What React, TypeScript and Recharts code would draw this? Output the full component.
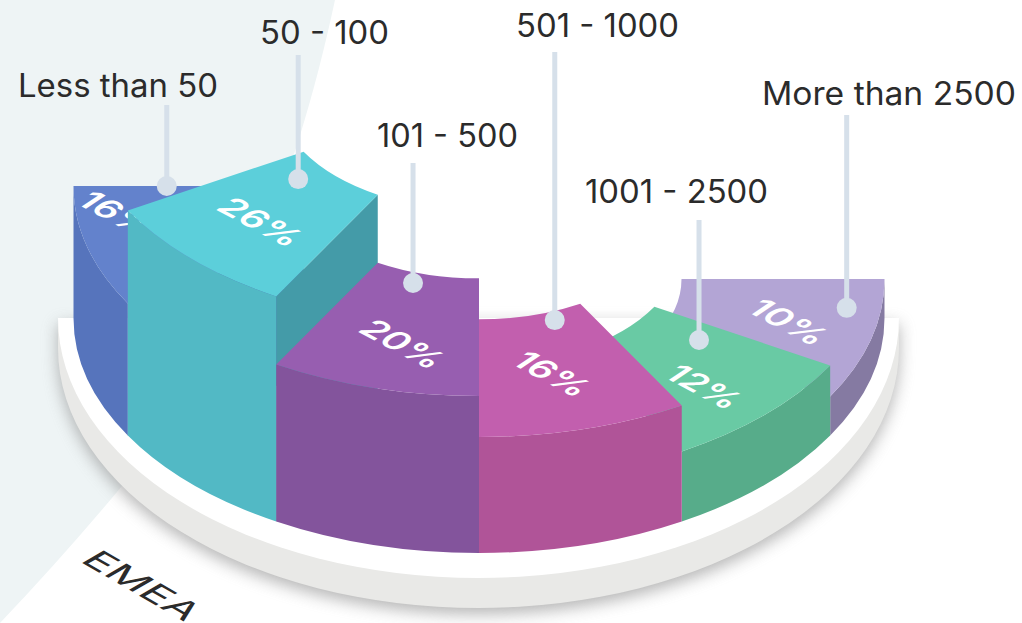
import React from "react";
import { PieChart, Pie } from "recharts";

const categories = ["Less than 50", "50 - 100", "101 - 500", "501 - 1000", "1001 - 2500", "More than 2500"];
const shares = [16, 26, 20, 16, 12, 10];

// Styling, separate from the values
const topColors = ["#6382CC", "#5CCFDA", "#975EB0", "#C25FAE", "#69CAA4", "#B3A5D5"];
const wallColors = ["#5674BC", "#52B9C5", "#83549C", "#B05498", "#57AC8A", "#857AA2"];
const sideColors = ["#4C68A8", "#449BA8", "#70478A", "#B05498", "#57AC8A", "#857AA2"];

// Layout of the extruded blocks and their annotations
const lifts = [132, 225, 157, 116, 70, 39];
const pinPolar = [[0.77, 180], [0.577, 219.4], [0.544, 252.6], [0.536, -69.6], [0.669, -35.8], [0.915, -7.7]];
const pctPolar = [[0.905, 187], [0.767, 224.7], [0.794, 255.8], [0.744, -76.5], [0.8, -46.7], [0.777, -13]];
const pctWidths = [76, 84, 84, 76, 74, 78];
const leaderTops = [105, 55, 163, 52, 220, 115];
const labelPos = [[18, 97, 200], [260, 44, 129], [377, 147, 141], [516, 37, 163], [585, 203, 183], [762, 105, 254]];

const WIDTH = 1022;
const HEIGHT = 623;
const CX = 479;
const CY = 318;
const OUTER = 405.5;
const INNER = 202.5;
const TILT = 235 / 405.5;
const RAD = Math.PI / 180;
const FONT = "Inter, 'Open Sans', sans-serif";
const PIN = "#D6E0EA";

const rows = categories.map((name, index) => ({ name, share: shares[index], span: 1, index }));
const leftRows = rows.slice(0, 3);
const rightRows = rows.slice(3).reverse();

function SliceShape(props: any) {
  const { cx, cy, innerRadius, outerRadius, startAngle, endAngle } = props;
  const row = props.payload ?? props;
  const i = row.index;
  const h = lifts[i];
  const at = (r: number, a: number, lift: number) => [
    cx + r * Math.cos(a * RAD),
    cy - TILT * r * Math.sin(a * RAD) - lift,
  ];
  const sweep = endAngle < startAngle ? 1 : 0;
  const back = 1 - sweep;
  const arc = (r: number, lift: number, s: number, to: number) => {
    const p = at(r, to, lift);
    return `A${r} ${r * TILT} 0 0 ${s} ${p[0]} ${p[1]}`;
  };
  const oT0 = at(outerRadius, startAngle, h);
  const oB1 = at(outerRadius, endAngle, 0);
  const iT1 = at(innerRadius, endAngle, h);
  const oT1 = at(outerRadius, endAngle, h);
  const iB1 = at(innerRadius, endAngle, 0);
  const top = `M${oT0[0]} ${oT0[1]} ${arc(outerRadius, h, sweep, endAngle)} L${iT1[0]} ${iT1[1]} ${arc(innerRadius, h, back, startAngle)} Z`;
  const wall = `M${oT0[0]} ${oT0[1]} ${arc(outerRadius, h, sweep, endAngle)} L${oB1[0]} ${oB1[1]} ${arc(outerRadius, 0, back, startAngle)} Z`;
  const side = `M${oT1[0]} ${oT1[1]} L${oB1[0]} ${oB1[1]} L${iB1[0]} ${iB1[1]} L${iT1[0]} ${iT1[1]} Z`;
  const pin = at(outerRadius * pinPolar[i][0], pinPolar[i][1], h);
  const pct = at(outerRadius * pctPolar[i][0], pctPolar[i][1], h);
  const [lx, ly, lw] = labelPos[i];
  const isLeft = startAngle > 90;
  return (
    <g>
      {isLeft && <path d={side} fill={sideColors[i]} />}
      <path d={wall} fill={wallColors[i]} />
      <path d={top} fill={topColors[i]} />
      <text
        transform={`matrix(0.88 0.47 -0.82 0.55 ${pct[0] + 3} ${pct[1] + 2})`}
        textAnchor="middle"
        dy={12}
        fontFamily={FONT}
        fontSize={33}
        fontWeight={600}
        fill="#FFFFFF"
        textLength={pctWidths[i]}
        lengthAdjust="spacingAndGlyphs"
      >
        {row.share}%
      </text>
      <rect x={pin[0] - 2.5} y={leaderTops[i]} width={5} height={pin[1] - leaderTops[i]} fill={PIN} />
      <circle cx={pin[0]} cy={pin[1]} r={10} fill={PIN} />
      <text
        x={lx}
        y={ly}
        fontFamily={FONT}
        fontSize={32}
        fontWeight={400}
        fill="#2B2B2B"
        textLength={lw}
        lengthAdjust="spacingAndGlyphs"
      >
        {row.name}
      </text>
    </g>
  );
}

function Backdrop() {
  const plate = 420.5;
  const plateY = 260;
  const gray = `M58 318 L58 348 A${plate} ${plateY} 0 0 0 899 348 L899 318 Z`;
  const white = `M58 318 A${plate} ${plateY} 0 0 0 899 318 Z`;
  return (
    <svg width={WIDTH} height={HEIGHT} style={{ position: "absolute", left: 0, top: 0 }}>
      <defs>
        <filter id="plateShadow" x="-10%" y="-10%" width="120%" height="130%">
          <feGaussianBlur stdDeviation="8" />
        </filter>
      </defs>
      <path d="M0 0 L335 0 C290 210 215 375 117 492 Q60 560 0 623 Z" fill="#EEF4F5" />
      <path d={gray} transform="translate(0 6)" fill="#8E8E8E" opacity={0.65} filter="url(#plateShadow)" />
      <path d={gray} fill="#E9E9E7" />
      <path d={white} fill="#FFFFFF" />
      <text
        transform="matrix(0.866 0.5 -0.866 0.5 79 561)"
        fontFamily={FONT}
        fontSize={34}
        fontWeight={400}
        fill="#2B2B2B"
        textLength={122}
        lengthAdjust="spacingAndGlyphs"
      >
        EMEA
      </text>
    </svg>
  );
}

export default function App() {
  return (
    <div style={{ position: "absolute", left: 0, top: 0, width: WIDTH, height: HEIGHT, overflow: "hidden", background: "#FFFFFF" }}>
      <Backdrop />
      <div style={{ position: "absolute", left: 0, top: 0 }}>
        <PieChart width={WIDTH} height={HEIGHT} margin={{ top: 0, right: 0, bottom: 0, left: 0 }}>
          <Pie
            data={leftRows}
            dataKey="span"
            nameKey="name"
            cx={CX}
            cy={CY}
            innerRadius={INNER}
            outerRadius={OUTER}
            startAngle={180}
            endAngle={270}
            stroke="none"
            label={false}
            labelLine={false}
            isAnimationActive={false}
            shape={SliceShape}
          />
          <Pie
            data={rightRows}
            dataKey="span"
            nameKey="name"
            cx={CX}
            cy={CY}
            innerRadius={INNER}
            outerRadius={OUTER}
            startAngle={0}
            endAngle={-90}
            stroke="none"
            label={false}
            labelLine={false}
            isAnimationActive={false}
            shape={SliceShape}
          />
        </PieChart>
      </div>
    </div>
  );
}
